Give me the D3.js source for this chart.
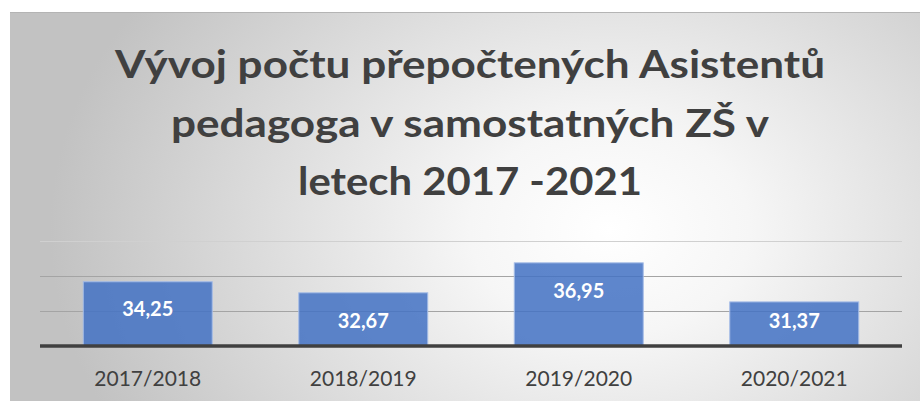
<!DOCTYPE html>
<html>
<head>
<meta charset="utf-8">
<script src="https://cdn.jsdelivr.net/npm/d3@7"></script>
<style>
  html, body { margin: 0; padding: 0; background: #ffffff; }
  svg { display: block; }
</style>
</head>
<body>
<svg id="chart" width="920" height="401"></svg>
<script>
// ---- data ----
const titleLines = ["Vývoj počtu přepočtených Asistentů", "pedagoga v samostatných ZŠ v", "letech 2017 -2021"];
const categories = ["2017/2018", "2018/2019", "2019/2020", "2020/2021"];
const values = [34.25, 32.67, 36.95, 31.37];
const valueLabels = ["34,25", "32,67", "36,95", "31,37"];
const yTicks = [30, 35, 40];
const yDomain = [25, 40];

// ---- layout ----
const W = 920, H = 401;
const plot = { left: 40, right: 902, top: 241, bottom: 346 };
const svg = d3.select("#chart");
const font = "Lato, 'Open Sans', 'DejaVu Sans', sans-serif";

const defs = svg.append("defs");
const grad = defs.append("radialGradient")
  .attr("id", "bg").attr("gradientUnits", "userSpaceOnUse")
  .attr("cx", 610).attr("cy", 230).attr("r", 560)
  .attr("fx", 610).attr("fy", 230)
  .attr("gradientTransform", "translate(610,230) scale(1,0.75) translate(-610,-230)");
grad.append("stop").attr("offset", "0").attr("stop-color", "#ffffff");
grad.append("stop").attr("offset", "0.25").attr("stop-color", "#f6f6f6");
grad.append("stop").attr("offset", "1").attr("stop-color", "#c2c2c2");

svg.append("rect").attr("x", 10).attr("y", 12).attr("width", W - 10).attr("height", H - 12)
  .attr("fill", "url(#bg)");
svg.append("line").attr("x1", 10).attr("x2", W).attr("y1", 12.5).attr("y2", 12.5)
  .attr("stroke", "#b4b4b4").attr("stroke-width", 1);

// ---- title ----
const titleWidths = [710, 598, 344];
const titleBaselines = [78, 137, 195];
svg.append("g").selectAll("text").data(titleLines).join("text")
  .attr("x", 470).attr("y", (d, i) => titleBaselines[i])
  .attr("text-anchor", "middle")
  .attr("font-family", font).attr("font-weight", "bold").attr("font-size", 39)
  .attr("fill", "#404040")
  .attr("textLength", (d, i) => titleWidths[i]).attr("lengthAdjust", "spacingAndGlyphs")
  .text(d => d);

// ---- scales ----
const x = d3.scaleBand().domain(categories).range([plot.left, plot.right])
  .paddingInner(0.397).paddingOuter(0.1985);
const y = d3.scaleLinear().domain(yDomain).range([plot.bottom, plot.top]);

// gridlines (the top one, at the domain maximum, is drawn faint)
svg.append("g").selectAll("line").data(yTicks).join("line")
  .attr("x1", plot.left).attr("x2", plot.right)
  .attr("y1", d => Math.round(y(d)) + 0.5).attr("y2", d => Math.round(y(d)) + 0.5)
  .attr("stroke", d => d === yDomain[1] ? "#d0d0d0" : "#a4a4a4").attr("stroke-width", 1.2);

// bars
const bars = svg.append("g");
bars.selectAll("rect").data(values).join("rect")
  .attr("x", (d, i) => x(categories[i]) + 0.5)
  .attr("y", d => y(d) + 0.5)
  .attr("width", x.bandwidth() - 1)
  .attr("height", d => y(yDomain[0]) - y(d))
  .attr("fill", "#4472C4").attr("fill-opacity", 0.86)
  .attr("stroke", "#a3bbe6").attr("stroke-width", 1);

// value labels
bars.selectAll("text").data(values).join("text")
  .attr("x", (d, i) => x(categories[i]) + x.bandwidth() / 2)
  .attr("y", d => Math.min(y(d) + 28, y(yDomain[0]) - 25))
  .attr("dy", "0.36em")
  .attr("text-anchor", "middle")
  .attr("font-family", font).attr("font-weight", "bold").attr("font-size", 20)
  .attr("fill", "#ffffff")
  .text((d, i) => valueLabels[i]);

// x axis
const xAxis = d3.axisBottom(x).tickSize(0).tickPadding(0);
const gx = svg.append("g").attr("transform", `translate(0,${plot.bottom})`).call(xAxis);
gx.select(".domain").remove();
gx.selectAll("text")
  .attr("y", 40).attr("dy", 0)
  .attr("font-family", font).attr("font-size", 21)
  .attr("fill", "#404040");
svg.append("line").attr("x1", plot.left).attr("x2", plot.right)
  .attr("y1", plot.bottom).attr("y2", plot.bottom)
  .attr("stroke", "#404040").attr("stroke-width", 3.5);
</script>
</body>
</html>
